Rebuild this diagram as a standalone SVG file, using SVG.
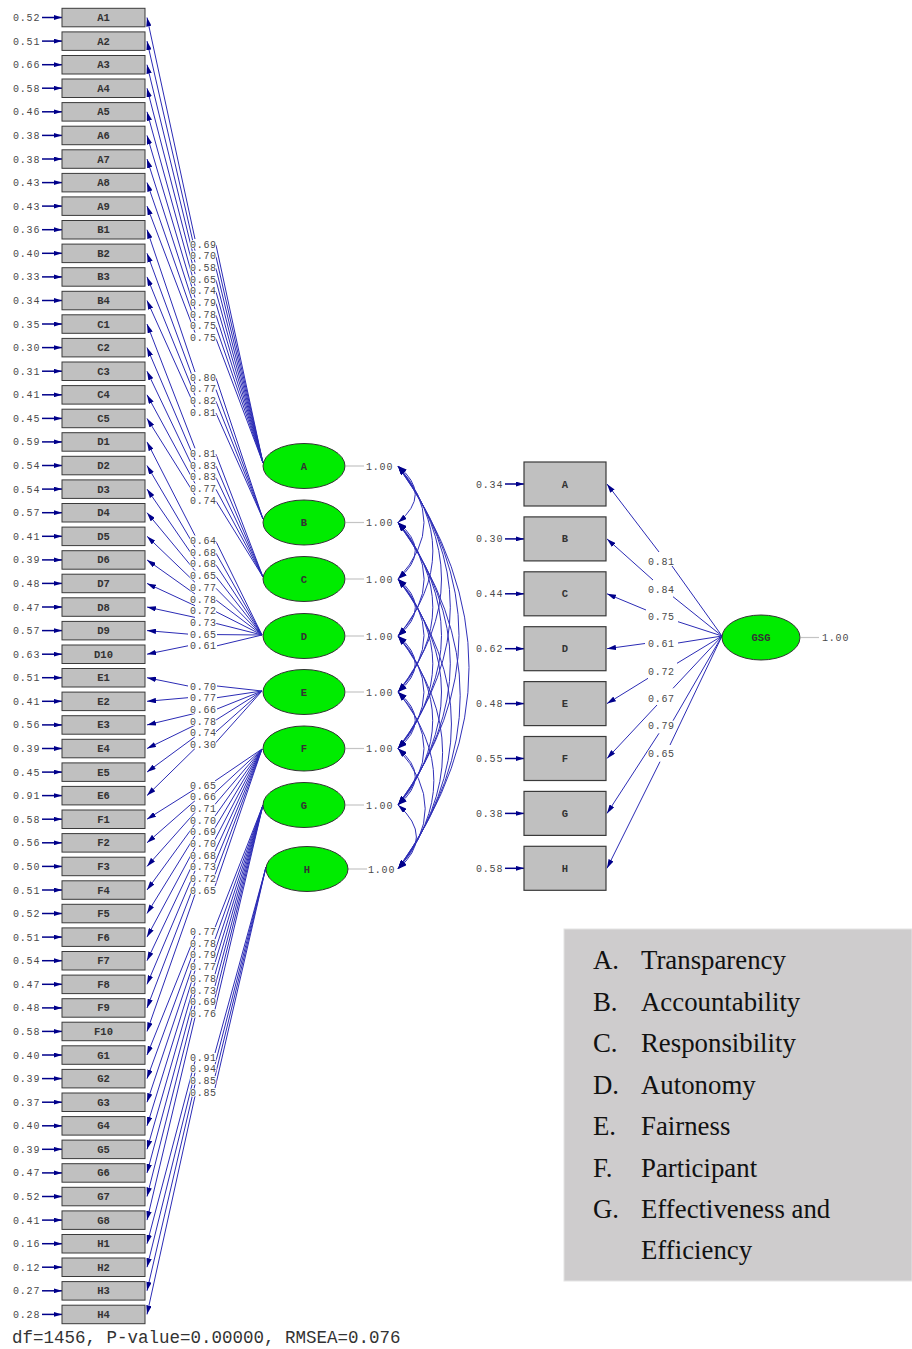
<svg xmlns="http://www.w3.org/2000/svg" width="912" height="1349" viewBox="0 0 912 1349">
<style>
.bx{fill:#c0c0c0;stroke:#3a3a3a;stroke-width:1}
.rb{fill:#c0c0c0;stroke:#3a3a3a;stroke-width:1.2}
.lv{fill:#00ec00;stroke:#333;stroke-width:1}
.t{font-family:"Liberation Mono",monospace;font-size:10px;fill:#4a4a4a;letter-spacing:0.8px}
.ll{font-family:"Liberation Mono",monospace;font-size:10px;fill:#4a4a4a;letter-spacing:0.7px;stroke:#fff;stroke-width:1.6px;paint-order:stroke}
.bt{font-family:"Liberation Mono",monospace;font-size:10.5px;font-weight:bold;fill:#333;text-anchor:middle}
.ld{fill:none;stroke:#2b2bb5;stroke-width:1;marker-start:url(#ah)}
.cv{fill:none;stroke:#3030b8;stroke-width:1;marker-start:url(#ah);marker-end:url(#ah)}
.er{fill:none;stroke:#00008b;stroke-width:1.5;marker-end:url(#eh)}
.vr{stroke:#c4c4c4;stroke-width:1.2}
.lg{font-family:"Liberation Serif",serif;font-size:26.8px;fill:#111}
.ft{font-family:"Liberation Mono",monospace;font-size:17.5px;fill:#333}
</style>
<defs>
<marker id="ah" viewBox="0 0 10 6" refX="10" refY="3" markerWidth="9" markerHeight="5.4" markerUnits="userSpaceOnUse" orient="auto-start-reverse"><path d="M0,0L10,3L0,6z" fill="#00008b"/></marker>
<marker id="eh" viewBox="0 0 10 6" refX="10" refY="3" markerWidth="8" markerHeight="5" markerUnits="userSpaceOnUse" orient="auto"><path d="M0,0L10,3L0,6z" fill="#00008b"/></marker>
</defs>
<rect width="912" height="1349" fill="#fff"/>

<g id="connectors">
<path class="ld" d="M147,17.5L195,239M216,245L263,463"/>
<path class="ld" d="M147,41.1L195,250.7M216,256.7L263,463"/>
<path class="ld" d="M147,64.7L195,262.4M216,268.4L263,463"/>
<path class="ld" d="M147,88.2L195,274.1M216,280.1L263,463"/>
<path class="ld" d="M147,111.8L195,285.8M216,291.8L263,463"/>
<path class="ld" d="M147,135.4L195,297.5M216,303.5L263,463"/>
<path class="ld" d="M147,159L195,309.2M216,315.2L263,463"/>
<path class="ld" d="M147,182.6L195,320.9M216,326.9L263,463"/>
<path class="ld" d="M147,206.1L195,332.6M216,338.6L263,463"/>
<path class="ld" d="M147,229.7L195,372M216,378L263,519"/>
<path class="ld" d="M147,253.3L195,383.7M216,389.7L263,519"/>
<path class="ld" d="M147,276.9L195,395.4M216,401.4L263,519"/>
<path class="ld" d="M147,300.5L195,407.1M216,413.1L263,519"/>
<path class="ld" d="M147,324L195,448.3M216,454.3L263,577"/>
<path class="ld" d="M147,347.6L195,460M216,466L263,577"/>
<path class="ld" d="M147,371.2L195,471.7M216,477.7L263,577"/>
<path class="ld" d="M147,394.8L195,483.4M216,489.4L263,577"/>
<path class="ld" d="M147,418.4L195,495.1M216,501.1L263,577"/>
<path class="ld" d="M147,441.9L195,535.5M216,541.5L262,635"/>
<path class="ld" d="M147,465.5L195,547.2M216,553.2L262,635"/>
<path class="ld" d="M147,489.1L195,558.9M216,564.9L262,635"/>
<path class="ld" d="M147,512.7L195,570.6M216,576.6L262,635"/>
<path class="ld" d="M147,536.3L195,582.3M216,588.3L262,635"/>
<path class="ld" d="M147,559.9L195,594M216,600L262,635"/>
<path class="ld" d="M147,583.4L195,605.7M216,611.7L262,635"/>
<path class="ld" d="M147,607L195,617.4M216,623.4L262,635"/>
<path class="ld" d="M147,630.6L188,634.1M217,634.6L262,635"/>
<path class="ld" d="M147,654.2L188,645.8M217,645.8L262,635"/>
<path class="ld" d="M147,677.7L188,686M217,686L262,691"/>
<path class="ld" d="M147,701.3L188,697.7M217,697.7L262,691"/>
<path class="ld" d="M147,724.9L195,713.4M217,709L262,691"/>
<path class="ld" d="M147,748.5L195,725.1M216,720L262,691"/>
<path class="ld" d="M147,772.1L195,736.8M216,731.8L262,691"/>
<path class="ld" d="M147,795.6L195,748.5M215,743.5L262,691"/>
<path class="ld" d="M147,819.2L195,789M215,781L262,749"/>
<path class="ld" d="M147,842.8L195,800.7M215,792.7L262,749"/>
<path class="ld" d="M147,866.4L195,812.4M215,804.4L262,749"/>
<path class="ld" d="M147,890L195,824.1M215,816.1L262,749"/>
<path class="ld" d="M147,913.5L195,835.8M215,827.8L262,749"/>
<path class="ld" d="M147,937.1L195,847.5M215,839.5L262,749"/>
<path class="ld" d="M147,960.7L195,859.2M215,851.2L262,749"/>
<path class="ld" d="M147,984.3L195,870.9M215,862.9L262,749"/>
<path class="ld" d="M147,1007.9L195,882.6M215,874.6L262,749"/>
<path class="ld" d="M147,1031.4L195,894.3M215,886.3L262,749"/>
<path class="ld" d="M147,1055L195,935.5M215,927.5L263,805"/>
<path class="ld" d="M147,1078.6L195,947.2M215,939.2L263,805"/>
<path class="ld" d="M147,1102.2L195,958.9M215,950.9L263,805"/>
<path class="ld" d="M147,1125.8L195,970.6M215,962.6L263,805"/>
<path class="ld" d="M147,1149.3L195,982.3M215,974.3L263,805"/>
<path class="ld" d="M147,1172.9L195,994M215,986L263,805"/>
<path class="ld" d="M147,1196.5L195,1005.7M215,997.7L263,805"/>
<path class="ld" d="M147,1220.1L195,1017.4M215,1009.4L263,805"/>
<path class="ld" d="M147,1243.7L195,1061M215,1053L266,867"/>
<path class="ld" d="M147,1267.2L195,1072.7M215,1064.7L266,867"/>
<path class="ld" d="M147,1290.8L195,1084.4M215,1076.4L266,867"/>
<path class="ld" d="M147,1314.4L195,1096.1M215,1088.1L266,867"/>

<g>
<path class="er" d="M42,17.5H62"/><path class="er" d="M42,41.1H62"/><path class="er" d="M42,64.7H62"/><path class="er" d="M42,88.2H62"/>
<path class="er" d="M42,111.8H62"/><path class="er" d="M42,135.4H62"/><path class="er" d="M42,159H62"/><path class="er" d="M42,182.6H62"/>
<path class="er" d="M42,206.1H62"/><path class="er" d="M42,229.7H62"/><path class="er" d="M42,253.3H62"/><path class="er" d="M42,276.9H62"/>
<path class="er" d="M42,300.5H62"/><path class="er" d="M42,324H62"/><path class="er" d="M42,347.6H62"/><path class="er" d="M42,371.2H62"/>
<path class="er" d="M42,394.8H62"/><path class="er" d="M42,418.4H62"/><path class="er" d="M42,441.9H62"/><path class="er" d="M42,465.5H62"/>
<path class="er" d="M42,489.1H62"/><path class="er" d="M42,512.7H62"/><path class="er" d="M42,536.3H62"/><path class="er" d="M42,559.9H62"/>
<path class="er" d="M42,583.4H62"/><path class="er" d="M42,607H62"/><path class="er" d="M42,630.6H62"/><path class="er" d="M42,654.2H62"/>
<path class="er" d="M42,677.7H62"/><path class="er" d="M42,701.3H62"/><path class="er" d="M42,724.9H62"/><path class="er" d="M42,748.5H62"/>
<path class="er" d="M42,772.1H62"/><path class="er" d="M42,795.6H62"/><path class="er" d="M42,819.2H62"/><path class="er" d="M42,842.8H62"/>
<path class="er" d="M42,866.4H62"/><path class="er" d="M42,890H62"/><path class="er" d="M42,913.5H62"/><path class="er" d="M42,937.1H62"/>
<path class="er" d="M42,960.7H62"/><path class="er" d="M42,984.3H62"/><path class="er" d="M42,1007.9H62"/><path class="er" d="M42,1031.4H62"/>
<path class="er" d="M42,1055H62"/><path class="er" d="M42,1078.6H62"/><path class="er" d="M42,1102.2H62"/><path class="er" d="M42,1125.8H62"/>
<path class="er" d="M42,1149.3H62"/><path class="er" d="M42,1172.9H62"/><path class="er" d="M42,1196.5H62"/><path class="er" d="M42,1220.1H62"/>
<path class="er" d="M42,1243.7H62"/><path class="er" d="M42,1267.2H62"/><path class="er" d="M42,1290.8H62"/><path class="er" d="M42,1314.4H62"/>
</g>

<g class="vr">
<line x1="346" y1="466" x2="364" y2="466"/><line x1="346" y1="522.5" x2="364" y2="522.5"/>
<line x1="346" y1="579" x2="364" y2="579"/><line x1="346" y1="636" x2="364" y2="636"/>
<line x1="346" y1="692" x2="364" y2="692"/><line x1="346" y1="748.5" x2="364" y2="748.5"/>
<line x1="346" y1="805" x2="364" y2="805"/><line x1="348" y1="869" x2="367" y2="869"/>
<line x1="801" y1="637.5" x2="819" y2="637.5"/>
</g>

<path class="cv" d="M398,466Q432.5,494.25 398,522.5"/>
<path class="cv" d="M398,466Q450,522.5 398,579"/>
<path class="cv" d="M398,466Q467.7,551 398,636"/>
<path class="cv" d="M398,466Q485,579 398,692"/>
<path class="cv" d="M398,466Q502.6,607.25 398,748.5"/>
<path class="cv" d="M398,466Q520,635.5 398,805"/>
<path class="cv" d="M398,466Q540,667.5 398,869"/>
<path class="cv" d="M398,522.5Q432.5,550.75 398,579"/>
<path class="cv" d="M398,522.5Q450.2,579.25 398,636"/>
<path class="cv" d="M398,522.5Q467.6,607.25 398,692"/>
<path class="cv" d="M398,522.5Q485,635.5 398,748.5"/>
<path class="cv" d="M398,522.5Q502.6,663.75 398,805"/>
<path class="cv" d="M398,522.5Q522.4,695.75 398,869"/>
<path class="cv" d="M398,579Q432.7,607.5 398,636"/>
<path class="cv" d="M398,579Q450,635.5 398,692"/>
<path class="cv" d="M398,579Q467.6,663.75 398,748.5"/>
<path class="cv" d="M398,579Q485,692 398,805"/>
<path class="cv" d="M398,579Q504.9,724 398,869"/>
<path class="cv" d="M398,636Q432.4,664 398,692"/>
<path class="cv" d="M398,636Q449.9,692.25 398,748.5"/>
<path class="cv" d="M398,636Q467.4,720.5 398,805"/>
<path class="cv" d="M398,636Q487.2,752.5 398,869"/>
<path class="cv" d="M398,692Q432.5,720.25 398,748.5"/>
<path class="cv" d="M398,692Q450,748.5 398,805"/>
<path class="cv" d="M398,692Q469.7,780.5 398,869"/>
<path class="cv" d="M398,748.5Q432.5,776.75 398,805"/>
<path class="cv" d="M398,748.5Q452.4,808.75 398,869"/>
<path class="cv" d="M398,805Q434.8,837 398,869"/>

<path class="ld" d="M607,484L659,552M672,566L722,636"/>
<path class="ld" d="M607,538.9L653,580M673,596.7L722,636"/>
<path class="ld" d="M607,593.8L646,610M678,621.7L722,636"/>
<path class="ld" d="M607,648.7L645,643.5M678,643L722,636"/>
<path class="ld" d="M607,703.6L648,678.3M677,663.3L722,636"/>
<path class="ld" d="M607,758.5L657,705M673,688.3L722,636"/>
<path class="ld" d="M607,813.4L659,733.3M673,720.7L722,636"/>
<path class="ld" d="M607,868.3L660,761.7M670,745L722,636"/>
<path class="er" d="M505,484H524"/><path class="er" d="M505,538.9H524"/><path class="er" d="M505,593.8H524"/><path class="er" d="M505,648.7H524"/>
<path class="er" d="M505,703.6H524"/><path class="er" d="M505,758.5H524"/><path class="er" d="M505,813.4H524"/><path class="er" d="M505,868.3H524"/>
</g>

<g id="error-labels" class="t">
<text x="13" y="21">0.52</text><text x="13" y="44.6">0.51</text><text x="13" y="68.2">0.66</text><text x="13" y="91.7">0.58</text>
<text x="13" y="115.3">0.46</text><text x="13" y="138.9">0.38</text><text x="13" y="162.5">0.38</text><text x="13" y="186.1">0.43</text>
<text x="13" y="209.6">0.43</text><text x="13" y="233.2">0.36</text><text x="13" y="256.8">0.40</text><text x="13" y="280.4">0.33</text>
<text x="13" y="304">0.34</text><text x="13" y="327.5">0.35</text><text x="13" y="351.1">0.30</text><text x="13" y="374.7">0.31</text>
<text x="13" y="398.3">0.41</text><text x="13" y="421.9">0.45</text><text x="13" y="445.4">0.59</text><text x="13" y="469">0.54</text>
<text x="13" y="492.6">0.54</text><text x="13" y="516.2">0.57</text><text x="13" y="539.8">0.41</text><text x="13" y="563.4">0.39</text>
<text x="13" y="586.9">0.48</text><text x="13" y="610.5">0.47</text><text x="13" y="634.1">0.57</text><text x="13" y="657.7">0.63</text>
<text x="13" y="681.2">0.51</text><text x="13" y="704.8">0.41</text><text x="13" y="728.4">0.56</text><text x="13" y="752">0.39</text>
<text x="13" y="775.6">0.45</text><text x="13" y="799.1">0.91</text><text x="13" y="822.7">0.58</text><text x="13" y="846.3">0.56</text>
<text x="13" y="869.9">0.50</text><text x="13" y="893.5">0.51</text><text x="13" y="917">0.52</text><text x="13" y="940.6">0.51</text>
<text x="13" y="964.2">0.54</text><text x="13" y="987.8">0.47</text><text x="13" y="1011.4">0.48</text><text x="13" y="1034.9">0.58</text>
<text x="13" y="1058.5">0.40</text><text x="13" y="1082.1">0.39</text><text x="13" y="1105.7">0.37</text><text x="13" y="1129.3">0.40</text>
<text x="13" y="1152.8">0.39</text><text x="13" y="1176.4">0.47</text><text x="13" y="1200">0.52</text><text x="13" y="1223.6">0.41</text>
<text x="13" y="1247.2">0.16</text><text x="13" y="1270.7">0.12</text><text x="13" y="1294.3">0.27</text><text x="13" y="1317.9">0.28</text>
<text x="476" y="487.5">0.34</text><text x="476" y="542.4">0.30</text><text x="476" y="597.3">0.44</text><text x="476" y="652.2">0.62</text>
<text x="476" y="707.1">0.48</text><text x="476" y="762">0.55</text><text x="476" y="816.9">0.38</text><text x="476" y="871.8">0.58</text>
</g>

<g id="loading-labels" class="ll">
<text x="190" y="247.5">0.69</text><text x="190" y="259.2">0.70</text><text x="190" y="270.9">0.58</text><text x="190" y="282.6">0.65</text>
<text x="190" y="294.3">0.74</text><text x="190" y="306">0.79</text><text x="190" y="317.7">0.78</text><text x="190" y="329.4">0.75</text>
<text x="190" y="341.1">0.75</text>
<text x="190" y="380.5">0.80</text><text x="190" y="392.2">0.77</text><text x="190" y="403.9">0.82</text><text x="190" y="415.6">0.81</text>
<text x="190" y="456.8">0.81</text><text x="190" y="468.5">0.83</text><text x="190" y="480.2">0.83</text><text x="190" y="491.9">0.77</text><text x="190" y="503.6">0.74</text>
<text x="190" y="544">0.64</text><text x="190" y="555.7">0.68</text><text x="190" y="567.4">0.68</text><text x="190" y="579.1">0.65</text>
<text x="190" y="590.8">0.77</text><text x="190" y="602.5">0.78</text><text x="190" y="614.2">0.72</text><text x="190" y="625.9">0.73</text>
<text x="190" y="637.6">0.65</text><text x="190" y="649.3">0.61</text>
<text x="190" y="689.5">0.70</text><text x="190" y="701.2">0.77</text><text x="190" y="712.9">0.66</text><text x="190" y="724.6">0.78</text>
<text x="190" y="736.3">0.74</text><text x="190" y="748">0.30</text>
<text x="190" y="788.5">0.65</text><text x="190" y="800.2">0.66</text><text x="190" y="811.9">0.71</text><text x="190" y="823.6">0.70</text>
<text x="190" y="835.3">0.69</text><text x="190" y="847">0.70</text><text x="190" y="858.7">0.68</text><text x="190" y="870.4">0.73</text>
<text x="190" y="882.1">0.72</text><text x="190" y="893.8">0.65</text>
<text x="190" y="935">0.77</text><text x="190" y="946.7">0.78</text><text x="190" y="958.4">0.79</text><text x="190" y="970.1">0.77</text>
<text x="190" y="981.8">0.78</text><text x="190" y="993.5">0.73</text><text x="190" y="1005.2">0.69</text><text x="190" y="1016.9">0.76</text>
<text x="190" y="1060.5">0.91</text><text x="190" y="1072.2">0.94</text><text x="190" y="1083.9">0.85</text><text x="190" y="1095.6">0.85</text>
<text x="648" y="565.2">0.81</text><text x="648" y="592.6">0.84</text><text x="648" y="619.9">0.75</text><text x="648" y="647.3">0.61</text>
<text x="648" y="674.7">0.72</text><text x="648" y="702">0.67</text><text x="648" y="729.4">0.79</text><text x="648" y="756.8">0.65</text>
</g>

<g id="variance-labels" class="t">
<text x="366" y="469.5">1.00</text><text x="366" y="526">1.00</text><text x="366" y="582.5">1.00</text><text x="366" y="639.5">1.00</text>
<text x="366" y="695.5">1.00</text><text x="366" y="752">1.00</text><text x="366" y="808.5">1.00</text><text x="368" y="872.5">1.00</text>
<text x="822" y="641">1.00</text>
</g>

<g id="A1"><rect class="bx" x="62" y="8.3" width="83" height="18.5"/><text class="bt" x="103.5" y="21">A1</text></g>
<g id="A2"><rect class="bx" x="62" y="31.9" width="83" height="18.5"/><text class="bt" x="103.5" y="44.6">A2</text></g>
<g id="A3"><rect class="bx" x="62" y="55.5" width="83" height="18.5"/><text class="bt" x="103.5" y="68.2">A3</text></g>
<g id="A4"><rect class="bx" x="62" y="79" width="83" height="18.5"/><text class="bt" x="103.5" y="91.7">A4</text></g>
<g id="A5"><rect class="bx" x="62" y="102.6" width="83" height="18.5"/><text class="bt" x="103.5" y="115.3">A5</text></g>
<g id="A6"><rect class="bx" x="62" y="126.2" width="83" height="18.5"/><text class="bt" x="103.5" y="138.9">A6</text></g>
<g id="A7"><rect class="bx" x="62" y="149.8" width="83" height="18.5"/><text class="bt" x="103.5" y="162.5">A7</text></g>
<g id="A8"><rect class="bx" x="62" y="173.4" width="83" height="18.5"/><text class="bt" x="103.5" y="186.1">A8</text></g>
<g id="A9"><rect class="bx" x="62" y="196.9" width="83" height="18.5"/><text class="bt" x="103.5" y="209.6">A9</text></g>
<g id="B1"><rect class="bx" x="62" y="220.5" width="83" height="18.5"/><text class="bt" x="103.5" y="233.2">B1</text></g>
<g id="B2"><rect class="bx" x="62" y="244.1" width="83" height="18.5"/><text class="bt" x="103.5" y="256.8">B2</text></g>
<g id="B3"><rect class="bx" x="62" y="267.7" width="83" height="18.5"/><text class="bt" x="103.5" y="280.4">B3</text></g>
<g id="B4"><rect class="bx" x="62" y="291.3" width="83" height="18.5"/><text class="bt" x="103.5" y="304">B4</text></g>
<g id="C1"><rect class="bx" x="62" y="314.8" width="83" height="18.5"/><text class="bt" x="103.5" y="327.5">C1</text></g>
<g id="C2"><rect class="bx" x="62" y="338.4" width="83" height="18.5"/><text class="bt" x="103.5" y="351.1">C2</text></g>
<g id="C3"><rect class="bx" x="62" y="362" width="83" height="18.5"/><text class="bt" x="103.5" y="374.7">C3</text></g>
<g id="C4"><rect class="bx" x="62" y="385.6" width="83" height="18.5"/><text class="bt" x="103.5" y="398.3">C4</text></g>
<g id="C5"><rect class="bx" x="62" y="409.2" width="83" height="18.5"/><text class="bt" x="103.5" y="421.9">C5</text></g>
<g id="D1"><rect class="bx" x="62" y="432.7" width="83" height="18.5"/><text class="bt" x="103.5" y="445.4">D1</text></g>
<g id="D2"><rect class="bx" x="62" y="456.3" width="83" height="18.5"/><text class="bt" x="103.5" y="469">D2</text></g>
<g id="D3"><rect class="bx" x="62" y="479.9" width="83" height="18.5"/><text class="bt" x="103.5" y="492.6">D3</text></g>
<g id="D4"><rect class="bx" x="62" y="503.5" width="83" height="18.5"/><text class="bt" x="103.5" y="516.2">D4</text></g>
<g id="D5"><rect class="bx" x="62" y="527.1" width="83" height="18.5"/><text class="bt" x="103.5" y="539.8">D5</text></g>
<g id="D6"><rect class="bx" x="62" y="550.7" width="83" height="18.5"/><text class="bt" x="103.5" y="563.4">D6</text></g>
<g id="D7"><rect class="bx" x="62" y="574.2" width="83" height="18.5"/><text class="bt" x="103.5" y="586.9">D7</text></g>
<g id="D8"><rect class="bx" x="62" y="597.8" width="83" height="18.5"/><text class="bt" x="103.5" y="610.5">D8</text></g>
<g id="D9"><rect class="bx" x="62" y="621.4" width="83" height="18.5"/><text class="bt" x="103.5" y="634.1">D9</text></g>
<g id="D10"><rect class="bx" x="62" y="645" width="83" height="18.5"/><text class="bt" x="103.5" y="657.7">D10</text></g>
<g id="E1"><rect class="bx" x="62" y="668.5" width="83" height="18.5"/><text class="bt" x="103.5" y="681.2">E1</text></g>
<g id="E2"><rect class="bx" x="62" y="692.1" width="83" height="18.5"/><text class="bt" x="103.5" y="704.8">E2</text></g>
<g id="E3"><rect class="bx" x="62" y="715.7" width="83" height="18.5"/><text class="bt" x="103.5" y="728.4">E3</text></g>
<g id="E4"><rect class="bx" x="62" y="739.3" width="83" height="18.5"/><text class="bt" x="103.5" y="752">E4</text></g>
<g id="E5"><rect class="bx" x="62" y="762.9" width="83" height="18.5"/><text class="bt" x="103.5" y="775.6">E5</text></g>
<g id="E6"><rect class="bx" x="62" y="786.4" width="83" height="18.5"/><text class="bt" x="103.5" y="799.1">E6</text></g>
<g id="F1"><rect class="bx" x="62" y="810" width="83" height="18.5"/><text class="bt" x="103.5" y="822.7">F1</text></g>
<g id="F2"><rect class="bx" x="62" y="833.6" width="83" height="18.5"/><text class="bt" x="103.5" y="846.3">F2</text></g>
<g id="F3"><rect class="bx" x="62" y="857.2" width="83" height="18.5"/><text class="bt" x="103.5" y="869.9">F3</text></g>
<g id="F4"><rect class="bx" x="62" y="880.8" width="83" height="18.5"/><text class="bt" x="103.5" y="893.5">F4</text></g>
<g id="F5"><rect class="bx" x="62" y="904.3" width="83" height="18.5"/><text class="bt" x="103.5" y="917">F5</text></g>
<g id="F6"><rect class="bx" x="62" y="927.9" width="83" height="18.5"/><text class="bt" x="103.5" y="940.6">F6</text></g>
<g id="F7"><rect class="bx" x="62" y="951.5" width="83" height="18.5"/><text class="bt" x="103.5" y="964.2">F7</text></g>
<g id="F8"><rect class="bx" x="62" y="975.1" width="83" height="18.5"/><text class="bt" x="103.5" y="987.8">F8</text></g>
<g id="F9"><rect class="bx" x="62" y="998.7" width="83" height="18.5"/><text class="bt" x="103.5" y="1011.4">F9</text></g>
<g id="F10"><rect class="bx" x="62" y="1022.2" width="83" height="18.5"/><text class="bt" x="103.5" y="1034.9">F10</text></g>
<g id="G1"><rect class="bx" x="62" y="1045.8" width="83" height="18.5"/><text class="bt" x="103.5" y="1058.5">G1</text></g>
<g id="G2"><rect class="bx" x="62" y="1069.4" width="83" height="18.5"/><text class="bt" x="103.5" y="1082.1">G2</text></g>
<g id="G3"><rect class="bx" x="62" y="1093" width="83" height="18.5"/><text class="bt" x="103.5" y="1105.7">G3</text></g>
<g id="G4"><rect class="bx" x="62" y="1116.6" width="83" height="18.5"/><text class="bt" x="103.5" y="1129.3">G4</text></g>
<g id="G5"><rect class="bx" x="62" y="1140.1" width="83" height="18.5"/><text class="bt" x="103.5" y="1152.8">G5</text></g>
<g id="G6"><rect class="bx" x="62" y="1163.7" width="83" height="18.5"/><text class="bt" x="103.5" y="1176.4">G6</text></g>
<g id="G7"><rect class="bx" x="62" y="1187.3" width="83" height="18.5"/><text class="bt" x="103.5" y="1200">G7</text></g>
<g id="G8"><rect class="bx" x="62" y="1210.9" width="83" height="18.5"/><text class="bt" x="103.5" y="1223.6">G8</text></g>
<g id="H1"><rect class="bx" x="62" y="1234.5" width="83" height="18.5"/><text class="bt" x="103.5" y="1247.2">H1</text></g>
<g id="H2"><rect class="bx" x="62" y="1258" width="83" height="18.5"/><text class="bt" x="103.5" y="1270.7">H2</text></g>
<g id="H3"><rect class="bx" x="62" y="1281.6" width="83" height="18.5"/><text class="bt" x="103.5" y="1294.3">H3</text></g>
<g id="H4"><rect class="bx" x="62" y="1305.2" width="83" height="18.5"/><text class="bt" x="103.5" y="1317.9">H4</text></g>

<g id="lat-A"><ellipse class="lv" cx="304" cy="466" rx="41" ry="22.5"/><text class="bt" x="304" y="469.5">A</text></g>
<g id="lat-B"><ellipse class="lv" cx="304" cy="522.5" rx="41" ry="22.5"/><text class="bt" x="304" y="526">B</text></g>
<g id="lat-C"><ellipse class="lv" cx="304" cy="579" rx="41" ry="22.5"/><text class="bt" x="304" y="582.5">C</text></g>
<g id="lat-D"><ellipse class="lv" cx="304" cy="636" rx="41" ry="22.5"/><text class="bt" x="304" y="639.5">D</text></g>
<g id="lat-E"><ellipse class="lv" cx="304" cy="692" rx="41" ry="22.5"/><text class="bt" x="304" y="695.5">E</text></g>
<g id="lat-F"><ellipse class="lv" cx="304" cy="748.5" rx="41" ry="22.5"/><text class="bt" x="304" y="752">F</text></g>
<g id="lat-G"><ellipse class="lv" cx="304" cy="805" rx="41" ry="22.5"/><text class="bt" x="304" y="808.5">G</text></g>
<g id="lat-H"><ellipse class="lv" cx="307" cy="869" rx="41" ry="22.5"/><text class="bt" x="307" y="872.5">H</text></g>

<g id="obs-A"><rect class="rb" x="524" y="462" width="82" height="44"/><text class="bt" x="565" y="487.5">A</text></g>
<g id="obs-B"><rect class="rb" x="524" y="516.9" width="82" height="44"/><text class="bt" x="565" y="542.4">B</text></g>
<g id="obs-C"><rect class="rb" x="524" y="571.8" width="82" height="44"/><text class="bt" x="565" y="597.3">C</text></g>
<g id="obs-D"><rect class="rb" x="524" y="626.7" width="82" height="44"/><text class="bt" x="565" y="652.2">D</text></g>
<g id="obs-E"><rect class="rb" x="524" y="681.6" width="82" height="44"/><text class="bt" x="565" y="707.1">E</text></g>
<g id="obs-F"><rect class="rb" x="524" y="736.5" width="82" height="44"/><text class="bt" x="565" y="762">F</text></g>
<g id="obs-G"><rect class="rb" x="524" y="791.4" width="82" height="44"/><text class="bt" x="565" y="816.9">G</text></g>
<g id="obs-H"><rect class="rb" x="524" y="846.3" width="82" height="44"/><text class="bt" x="565" y="871.8">H</text></g>

<g id="GSG"><ellipse class="lv" cx="761" cy="637.5" rx="39" ry="22.5"/><text class="bt" x="761" y="641">GSG</text></g>

<g id="legend">
<rect x="564" y="929" width="348" height="352" fill="#cecccd" stroke="#e4e4e4" stroke-width="1"/>
<g class="lg">
<text x="593" y="969">A.</text><text x="641" y="969">Transparency</text>
<text x="593" y="1011">B.</text><text x="641" y="1011">Accountability</text>
<text x="593" y="1052">C.</text><text x="641" y="1052">Responsibility</text>
<text x="593" y="1094">D.</text><text x="641" y="1094">Autonomy</text>
<text x="593" y="1135">E.</text><text x="641" y="1135">Fairness</text>
<text x="593" y="1177">F.</text><text x="641" y="1177">Participant</text>
<text x="593" y="1218">G.</text><text x="641" y="1218">Effectiveness and</text>
<text x="641" y="1259">Efficiency</text>
</g>
</g>

<text id="fit" class="ft" x="12" y="1343">df=1456, P-value=0.00000, RMSEA=0.076</text>
</svg>
